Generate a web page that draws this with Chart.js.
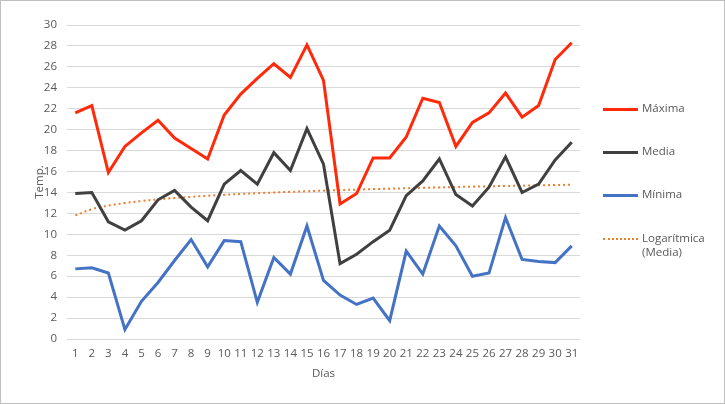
<!DOCTYPE html>
<html>
<head>
<meta charset="utf-8">
<script src="https://cdn.jsdelivr.net/npm/chart.js@4/dist/chart.umd.min.js"></script>
<style>
  html, body { margin:0; padding:0; background:#fff; }
  #wrap { position:relative; width:725px; height:404px; box-sizing:border-box; border:1px solid #bfbfbf; overflow:hidden; }
  #c { position:absolute; left:0; top:0; }
  .leg { position:absolute; left:602px; font-family:"Open Sans","Noto Sans",sans-serif; font-size:11.5px; color:#595959; }
  .leg .sw { position:absolute; left:0; width:35px; height:0; }
  .leg .tx { position:absolute; left:39px; white-space:nowrap; line-height:14px; }
</style>
</head>
<body>
<div id="wrap">
  <canvas id="c" width="723" height="402"></canvas>
  <div class="leg" style="top:108px"><div class="sw" style="border-top:3px solid #FF2A0A;top:-1px"></div><div class="tx" style="top:-8px">Máxima</div></div>
  <div class="leg" style="top:151px"><div class="sw" style="border-top:3px solid #404040;top:-1px"></div><div class="tx" style="top:-8px">Media</div></div>
  <div class="leg" style="top:194px"><div class="sw" style="border-top:3px solid #4472C4;top:-1px"></div><div class="tx" style="top:-8px">Mínima</div></div>
  <div class="leg" style="top:238px"><div class="sw" style="border-top:2px dotted #ED7D31;top:-1px"></div><div class="tx" style="top:-8px">Logarítmica<br>(Media)</div></div>
</div>
<script>
const days = Array.from({length:31}, (_, i) => String(i + 1));
const maxima = [21.6,22.3,15.9,18.4,19.7,20.9,19.2,18.2,17.2,21.4,23.4,24.9,26.3,25.0,28.1,24.7,12.9,13.9,17.3,17.3,19.3,23.0,22.6,18.4,20.7,21.6,23.5,21.2,22.3,26.7,28.3];
const media  = [13.9,14.0,11.2,10.4,11.3,13.3,14.2,12.6,11.3,14.8,16.1,14.8,17.8,16.1,20.1,16.7,7.2,8.1,9.3,10.4,13.7,15.1,17.2,13.8,12.7,14.5,17.4,14.0,14.8,17.1,18.8];
const minima = [6.7,6.8,6.3,0.9,3.6,5.4,7.5,9.5,6.9,9.4,9.3,3.5,7.8,6.2,10.8,5.6,4.2,3.3,3.9,1.75,8.4,6.2,10.8,8.9,6.0,6.3,11.6,7.6,7.4,7.3,8.9];
const yTicks = [0,2,4,6,8,10,12,14,16,18,20,22,24,26,28,30];

// Logarithmic least-squares trendline of "Media" (as Excel does)
function logTrend(vals) {
  const n = vals.length;
  let sx = 0, sy = 0, sxx = 0, sxy = 0;
  vals.forEach((v, i) => { const x = Math.log(i + 1); sx += x; sy += v; sxx += x * x; sxy += x * v; });
  const a = (n * sxy - sx * sy) / (n * sxx - sx * sx);
  const b = (sy - a * sx) / n;
  return vals.map((_, i) => a * Math.log(i + 1) + b);
}
const trend = logTrend(media);

const tickFont = { family: "'Open Sans','Noto Sans',sans-serif", size: 11.5 };
new Chart(document.getElementById('c'), {
  type: 'line',
  data: {
    labels: days,
    datasets: [
      { label: 'Logarítmica (Media)', data: trend, borderColor: '#ED7D31', borderWidth: 2, borderDash: [2, 3], pointRadius: 0, tension: 0.4, order: 4 },
      { label: 'Mínima', data: minima, borderColor: '#4472C4', borderWidth: 3, pointRadius: 0, tension: 0, order: 3 },
      { label: 'Media', data: media, borderColor: '#404040', borderWidth: 3, pointRadius: 0, tension: 0, order: 2 },
      { label: 'Máxima', data: maxima, borderColor: '#FF2A0A', borderWidth: 3, pointRadius: 0, tension: 0, order: 1 }
    ]
  },
  options: {
    responsive: false,
    animation: false,
    layout: { padding: { left: 0, right: 144, top: 24, bottom: 22 } },
    plugins: { legend: { display: false }, tooltip: { enabled: false } },
    scales: {
      x: {
        offset: true,
        grid: { display: false, drawTicks: false },
        border: { display: false },
        ticks: { color: '#595959', font: tickFont, padding: 8, maxRotation: 0, autoSkip: false },
        title: { display: true, text: 'Días', color: '#595959', font: tickFont, padding: { top: 4, bottom: 0 } },
        afterFit: s => { s.height = 42; }
      },
      y: {
        min: 0, max: 30,
        afterBuildTicks: s => { s.ticks = yTicks.map(v => ({ value: v })); },
        grid: { color: '#d9d9d9', lineWidth: 1, drawTicks: false },
        border: { display: false },
        ticks: { color: '#595959', font: tickFont, padding: 10 },
        title: { display: true, text: 'Temp.', color: '#595959', font: tickFont, padding: { top: 32, bottom: 0 } },
        afterFit: s => { s.width = 66; }
      }
    }
  }
});
</script>
</body>
</html>
